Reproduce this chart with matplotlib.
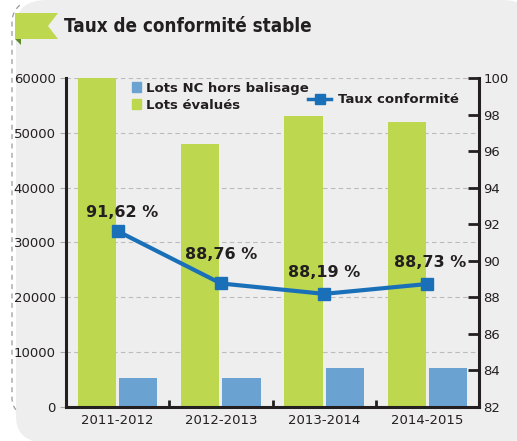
import numpy as np
import matplotlib
matplotlib.use('Agg')
import matplotlib.pyplot as plt
from matplotlib.patches import FancyBboxPatch, Polygon, Patch
from matplotlib.lines import Line2D

# data
saisons = ['2011-2012', '2012-2013', '2013-2014', '2014-2015']
lots_evalues = [60000, 48000, 53000, 52000]
lots_nc = [5200, 5200, 7200, 7200]
taux = [91.62, 88.76, 88.19, 88.73]
taux_labels = ['91,62 %', '88,76 %', '88,19 %', '88,73 %']

vert = '#bdd74f'
bleu_clair = '#6aa3d1'
bleu = '#1a70b8'
texte = '#231f20'

W, H = 517, 441
fig = plt.figure(figsize=(W / 100, H / 100), dpi=100)
fig.patch.set_facecolor('white')

# rounded grey panel (right side runs a little past the edge)
fond = FancyBboxPatch((16 / W, -0.004), 1.0 - 16 / W + 16 / W, 1.004,
                      boxstyle='round,pad=0,rounding_size=0.06',
                      transform=fig.transFigure, facecolor='#eeeeee',
                      edgecolor='none', zorder=-5)
fig.patches.append(fond)

# dashed border on the left side (pixel coords, y downward)
t = np.linspace(0.7, np.pi / 2, 15)
haut_x = 34 - 22 * np.sin(t)
haut_y = 22 - 22 * np.cos(t)
s = np.linspace(0, np.pi / 5, 8)
bas_x = 32 - 20 * np.cos(s)
bas_y = 398 + 20 * np.sin(s)
bx = np.concatenate([haut_x, bas_x])
by = np.concatenate([haut_y, bas_y])
bord = Line2D(bx / W, 1 - by / H, transform=fig.transFigure, color='#9a9a9a',
              linewidth=0.9, linestyle=(0, (4, 3.5)), zorder=-4)
fig.lines.append(bord)

# green ribbon next to title
ruban = Polygon([(15 / W, 1 - 13 / H), (58 / W, 1 - 13 / H), (48 / W, 1 - 26 / H),
                 (58 / W, 1 - 39 / H), (15 / W, 1 - 39 / H)],
                closed=True, transform=fig.transFigure, facecolor=vert, edgecolor='none',
                zorder=-4)
fig.patches.append(ruban)
coin = Polygon([(15 / W, 1 - 39 / H), (21 / W, 1 - 39 / H), (21 / W, 1 - 45 / H)],
               closed=True, transform=fig.transFigure, facecolor='#5f8a2a', edgecolor='none',
               zorder=-4)
fig.patches.append(coin)

fig.text(64 / W, 1 - 27 / H, 'Taux de conformité stable', fontsize=13.5, fontweight='bold',
         fontstretch='condensed', family='DejaVu Sans', color=texte, va='center', ha='left')

ax = fig.add_axes([66 / W, 34 / H, 413 / W, 329 / H])
ax.set_facecolor('none')
x = np.arange(len(saisons))
w = 0.37
ax.bar(x - 0.2, lots_evalues, w, color=vert, zorder=2)
ax.bar(x + 0.2, lots_nc, w, color=bleu_clair, zorder=2)

ax.set_xlim(-0.5, 3.5)
ax.set_ylim(0, 60000)
ax.set_yticks(np.arange(0, 60001, 10000))
ax.yaxis.grid(True, color='#bbbbbb', linestyle=(0, (4, 3)), linewidth=0.8, zorder=1)
ax.set_axisbelow(True)
ax.tick_params(axis='y', colors='#aaaaaa', labelcolor=texte, labelsize=9.5, length=4, width=0.8)
ax.set_xticks(x)
ax.set_xticklabels(saisons)
ax.tick_params(axis='x', length=0, labelsize=9.5, labelcolor=texte, pad=5)
ax.set_xticks([0.5, 1.5, 2.5], minor=True)
ax.tick_params(axis='x', which='minor', direction='in', length=5, width=2, color=texte)
for sp in ['top', 'right']:
    ax.spines[sp].set_visible(False)
for sp in ['left', 'bottom']:
    ax.spines[sp].set_color(texte)
    ax.spines[sp].set_linewidth(2.2)

ax2 = ax.twinx()
ax2.plot(x, taux, color=bleu, linewidth=3, marker='s', markersize=9, zorder=5)
ax2.set_ylim(82, 100)
ax2.set_yticks(np.arange(82, 101, 2))
ax2.tick_params(axis='y', direction='in', length=8, width=2, color=texte,
                labelcolor=texte, labelsize=9.5, pad=3)
for sp in ['top', 'left', 'bottom']:
    ax2.spines[sp].set_visible(False)
ax2.spines['right'].set_color(texte)
ax2.spines['right'].set_linewidth(2.2)

offsets = [(0.04, 1.0), (0.0, 1.6), (0.0, 1.15), (0.03, 1.2)]
for xi, v, lab, (dx, dy) in zip(x, taux, taux_labels, offsets):
    ax2.text(xi + dx, v + dy, lab, ha='center', va='center', fontsize=11.5,
             fontweight='bold', color=texte, zorder=6)

leg1 = ax.legend(handles=[Patch(color=bleu_clair, label='Lots NC hors balisage'),
                          Patch(color=vert, label='Lots évalués')],
                 loc='upper left', bbox_to_anchor=(0.13, 1.025), frameon=False,
                 handlelength=0.7, handleheight=0.7, handletextpad=0.4,
                 labelspacing=0.3, prop={'weight': 'bold', 'size': 9.5})
for txt in leg1.get_texts():
    txt.set_color(texte)

leg2 = ax2.legend(handles=[Line2D([0], [0], color=bleu, linewidth=2.5, marker='s',
                                  markersize=7, label='Taux conformité')],
                  loc='upper right', bbox_to_anchor=(0.98, 0.99), frameon=False,
                  handlelength=1.8, handletextpad=0.5, prop={'weight': 'bold', 'size': 9.5})
for txt in leg2.get_texts():
    txt.set_color(texte)

fig.savefig('out.png', dpi=100)
